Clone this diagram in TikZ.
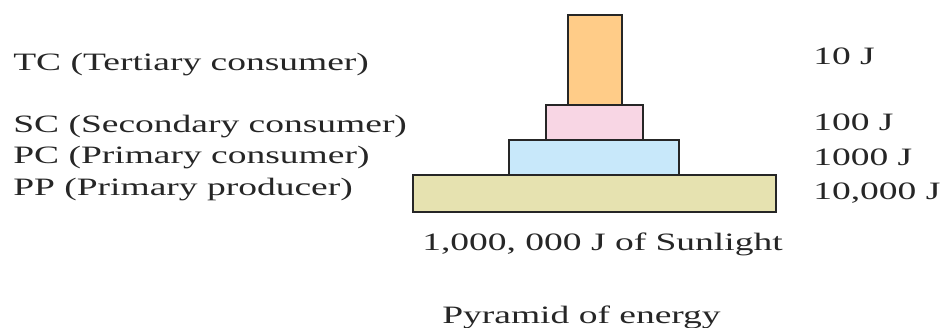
\documentclass[tikz,border=0pt]{standalone}
\usepackage{fontspec}
\setmainfont{Liberation Serif}
\usetikzlibrary{positioning}
\definecolor{tcfill}{RGB}{255,204,136}
\definecolor{scfill}{RGB}{248,214,228}
\definecolor{pcfill}{RGB}{200,232,250}
\definecolor{ppfill}{RGB}{230,226,176}
\tikzstyle{lvl}=[draw=black!85, line width=1.6pt, inner sep=0pt]
\tikzstyle{lab}=[anchor=base west, inner sep=0pt, text=black!85, xscale=1.5, font=\fontsize{25}{30}\selectfont]

\begin{document}
\begin{tikzpicture}[x=1pt, y=-1pt]
\useasboundingbox (0,0) rectangle (941,328);

\node[lvl, fill=tcfill, minimum width=54pt, minimum height=90pt] (tc) at (595,60) {};
\node[lvl, fill=scfill, minimum width=97pt, minimum height=35pt] (sc) at (594.5,122.5) {};
\node[lvl, fill=pcfill, minimum width=170pt, minimum height=35pt] (pc) at (594,157.5) {};
\node[lvl, fill=ppfill, minimum width=363pt, minimum height=37pt] (pp) at (594.5,193.5) {};

\node[lab] (tclab) at (13,71) {TC (Tertiary consumer)};
\node[lab] (sclab) at (13,133) {SC (Secondary consumer)};
\node[lab] (pclab) at (13,164) {PC (Primary consumer)};
\node[lab] (pplab) at (13,196) {PP (Primary producer)};

\node[lab] (tcval) at (813,65) {10 J};
\node[lab] (scval) at (813,131) {100 J};
\node[lab] (pcval) at (813,166) {1000 J};
\node[lab] (ppval) at (813,200) {10,000 J};

\node[lab] (sun) at (422,251) {1,000, 000 J of Sunlight};
\node[lab] (title) at (442,323) {Pyramid of energy};
\end{tikzpicture}
\end{document}
